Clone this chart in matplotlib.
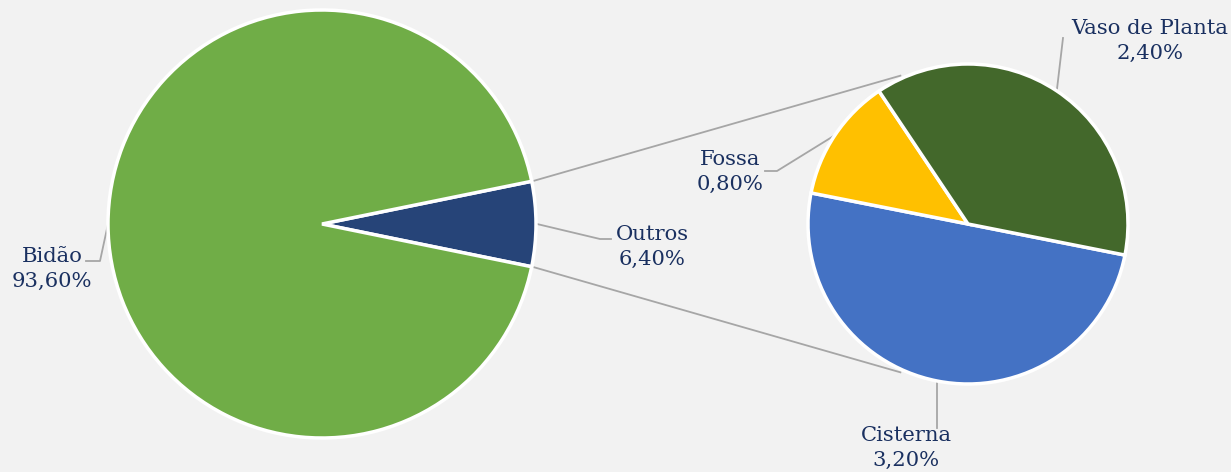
import matplotlib.pyplot as plt
import numpy as np

# ---- data ----
main_labels = ['Outros', 'Bidão']
main_values = [6.40, 93.60]
main_texts = ['6,40%', '93,60%']
sub_labels = ['Cisterna', 'Fossa', 'Vaso de Planta']
sub_values = [3.20, 0.80, 2.40]
sub_texts = ['3,20%', '0,80%', '2,40%']

main_colors = ['#264478', '#70ad47']
sub_colors = ['#4472c4', '#ffc000', '#43682b']
TXT = '#1a3060'
GRAY = '#a6a6a6'
BG = '#f2f2f2'
FONT = 'DejaVu Serif'
FS = 15.2

W, H = 1231, 472
fig = plt.figure(figsize=(W / 100, H / 100), dpi=100, facecolor=BG)
ax = fig.add_axes([0, 0, 1, 1])
ax.set_facecolor(BG)

c1 = (322, H - 224); r1 = 214
c2 = (968, H - 224); r2 = 160
half = main_values[0] / sum(main_values) * 360 / 2
wp = dict(edgecolor='white', linewidth=2.5)

w1, _ = ax.pie(main_values, colors=main_colors, center=c1, radius=r1,
               startangle=-half, counterclock=True, wedgeprops=wp, frame=True)
w2, _ = ax.pie(sub_values, colors=sub_colors, center=c2, radius=r2,
               startangle=-11.2, counterclock=False, wedgeprops=wp, frame=True)
ax.set_xlim(0, W); ax.set_ylim(0, H)
ax.set_aspect('equal')
ax.axis('off')


def pt(c, r, ang):
    a = np.deg2rad(ang)
    return (c[0] + r * np.cos(a), c[1] + r * np.sin(a))


# connector lines between the pies
o = w1[0]
for a1, a2 in [(o.theta2, 114.5), (o.theta1, -114.5)]:
    p1 = pt(c1, r1 + 2, a1)
    p2 = pt(c2, r2 + 3, a2)
    ax.plot([p1[0], p2[0]], [p1[1], p2[1]], color=GRAY, lw=1.3, zorder=0)


def mid(w):
    return (w.theta1 + w.theta2) / 2


def leader(pts):
    xs = [p[0] for p in pts]
    ys = [p[1] for p in pts]
    ax.plot(xs, ys, color=GRAY, lw=1.3, zorder=0)


def label(x, ypix, name, val):
    ax.text(x, H - ypix, name + '\n' + val, ha='center', va='center',
            fontsize=FS, family=FONT, color=TXT, linespacing=1.4)


# main pie labels
pb = pt(c1, r1, mid(w1[1]))
leader([pb, (100, H - 261), (86, H - 261)])
label(52, 269, main_labels[1], main_texts[1])

po = pt(c1, r1 + 1, mid(w1[0]))
leader([po, (600, H - 239), (611, H - 239)])
label(652, 247, main_labels[0], main_texts[0])

# sub pie labels
pf = pt(c2, r2, mid(w2[1]))
leader([pf, (777, H - 171), (765, H - 171)])
label(730, 172, sub_labels[1], sub_texts[1])

pv = pt(c2, r2, mid(w2[2]))
leader([pv, (1063, H - 38)])
label(1150, 41, sub_labels[2], sub_texts[2])

pc = pt(c2, r2, mid(w2[0]))
leader([pc, (pc[0], H - 428)])
label(906, 448, sub_labels[0], sub_texts[0])

fig.savefig('out.png', dpi=100, facecolor=BG)
